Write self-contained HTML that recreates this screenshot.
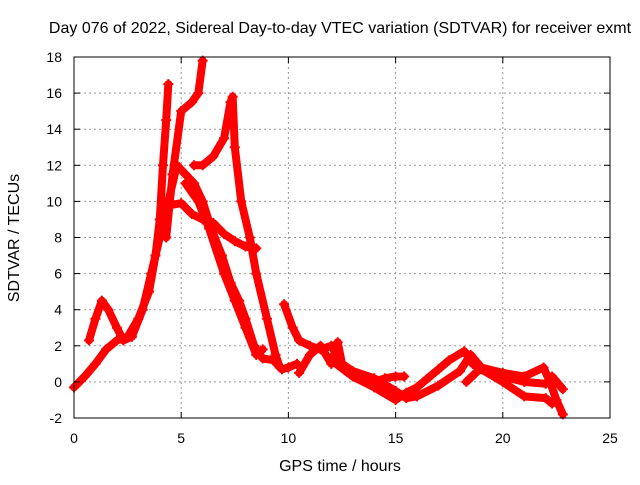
<!DOCTYPE html>
<html><head><meta charset="utf-8"><style>
body{margin:0;background:#fff}
svg text{font-family:"Liberation Sans",sans-serif;font-size:14px;fill:#000}
svg text.big{font-size:16px}
</style></head><body>
<svg id="c" width="640" height="480">
<text class="big" x="340" y="33" text-anchor="middle">Day 076 of 2022, Sidereal Day-to-day VTEC variation (SDTVAR) for receiver exmt</text>
<g id="grid"></g><g id="data"></g><g id="axes"></g>
<text class="big" x="340" y="471" text-anchor="middle">GPS time / hours</text>
<text class="big" transform="translate(19,238) rotate(-90)" text-anchor="middle">SDTVAR / TECUs</text>
</svg>
<script>
const xTicks=[0,5,10,15,20,25];
const yTicks=[-2,0,2,4,6,8,10,12,14,16,18];
const t1=[[0,-0.3],[0.5,0.3],[1,1],[1.5,1.8],[2,2.3],[2.5,2.5],[3,3.5],[3.5,5],[3.8,7],[4,9],[4.15,12],[4.3,14.5],[4.4,16.5]];
const t2=[[0.7,2.3],[1,3.5],[1.3,4.5],[1.6,4],[2,3],[2.3,2.3],[2.7,2.5],[3.2,4],[3.6,6],[4,8],[4.4,10],[4.8,12],[5.2,11.5],[5.6,11],[6,10],[6.4,8.5],[6.9,7],[7.3,5.5],[7.7,4.5],[8,3.5],[8.4,2],[8.8,1.3],[9.3,1.2],[9.7,0.7],[10,0.8],[10.4,1]];
const t3=[[4.5,9.8],[5,9.9],[5.5,9.3],[6,9],[6.5,8.8],[7,8.2],[7.5,7.8],[8,7.5],[8.5,7.4]];
const t4=[[4.3,8],[4.6,11.5],[5,15],[5.5,15.5],[5.8,16],[6,17.8]];
const t5=[[5.6,12],[6,12],[6.5,12.5],[7,13.5],[7.3,15.5],[7.4,15.8],[7.5,13],[7.8,10],[8.2,8],[8.5,6],[9,3.5],[9.4,1.5],[9.6,0.8]];
const t6=[[5.2,11],[5.8,10],[6.3,8.5],[7,6],[7.5,4.5],[8,3],[8.5,1.5],[8.8,1.8]];
const t7=[[9.8,4.3],[10.2,3],[10.5,2.3],[11,2],[11.5,1.8],[12,2],[12.5,1],[13,0.5],[14,0],[14.5,0.2],[15,0.3],[15.4,0.3]];
const t8=[[10.5,0.5],[11,1.5],[11.5,2],[12,1],[12.3,2.2],[12.5,1],[13,0.6],[14,0.2],[15,-0.5],[15.5,-0.9],[16,-0.8],[17,-0.2],[18,0.6],[18.5,1.5],[19,0.8],[19.5,0.5],[20,0.3],[21,0],[22,-0.1],[22.3,0.3],[22.8,-0.4]];
const t9=[[12,1.2],[13,0.3],[14,-0.3],[15,-1],[15.5,-0.6],[16,-0.3],[17,0.7],[17.5,1.2],[18.2,1.7],[18.6,1],[19,0.7],[20,0],[21,-0.8],[22,-0.9],[22.3,-1.2]];
const t10=[[18.3,0],[19,0.8],[20,0.5],[21,0.3],[21.9,0.8],[22.2,0],[22.5,-1],[22.8,-1.8]];
const tracks=[t1,t2,t3,t4,t5,t6,t7,t8,t9,t10];
const X0=74,X1=610,Y0=418,Y1=57;
const sx=v=>X0+(v-0)/25*(X1-X0), sy=v=>Y0-(v+2)/20*(Y0-Y1);
const NS="http://www.w3.org/2000/svg";
function mk(tag,at,parent){const e=document.createElementNS(NS,tag);for(const k in at)e.setAttribute(k,at[k]);parent.appendChild(e);return e;}
const g=document.getElementById('grid'),d=document.getElementById('data'),ax=document.getElementById('axes');
xTicks.forEach(v=>{
 if(v>0&&v<25){const l=mk('line',{x1:sx(v),x2:sx(v),y1:Y1,y2:Y0,stroke:'#999','stroke-dasharray':'2,3'},g);
 
 }
 const t=mk('text',{x:sx(v),y:Y0+25,'text-anchor':'middle'},ax);t.textContent=v;
 
 
 mk('line',{x1:sx(v),x2:sx(v),y1:Y0,y2:Y0-6,stroke:'#000'},ax);mk('line',{x1:sx(v),x2:sx(v),y1:Y1,y2:Y1+6,stroke:'#000'},ax);
});
yTicks.forEach(v=>{
 if(v>-2&&v<18){const l=mk('line',{x1:X0,x2:X1,y1:sy(v),y2:sy(v),stroke:'#999','stroke-dasharray':'2,3'},g);
 
 }
 const t=mk('text',{x:X0-12,y:sy(v)+5,'text-anchor':'end'},ax);t.textContent=v;
 
 
 mk('line',{x1:X0,x2:X0+6,y1:sy(v),y2:sy(v),stroke:'#000'},ax);mk('line',{x1:X1,x2:X1-6,y1:sy(v),y2:sy(v),stroke:'#000'},ax);
});
const fr=mk('rect',{x:X0,y:Y1,width:X1-X0,height:Y0-Y1,fill:'none',stroke:'#000'},ax);


tracks.forEach((tr,i)=>{
 const p=mk('polyline',{points:tr.map(q=>sx(q[0])+','+sy(q[1])).join(' '),fill:'none',stroke:'#f00','stroke-width':8,'stroke-linejoin':'round','stroke-linecap':'round'},d);
 
 
 tr.forEach(q=>{const m=mk('path',{d:`M${sx(q[0])-5},${sy(q[1])}h10M${sx(q[0])},${sy(q[1])-5}v10`,stroke:'#f00','stroke-width':2},d);
 
 });
});
</script>
</body></html>
